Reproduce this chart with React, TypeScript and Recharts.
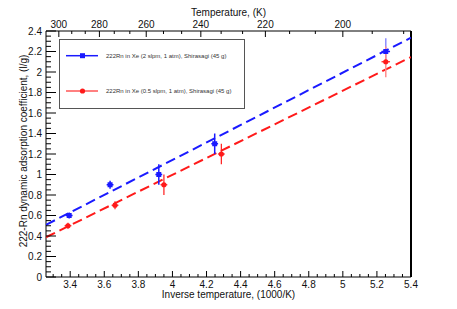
import { ComposedChart, XAxis, YAxis, Scatter, Line, ErrorBar, Legend, ReferenceArea, ReferenceLine, Label } from "recharts";

// measured points (x = 1000/T, y = adsorption coefficient l/g)
const blueX = [3.394, 3.634, 3.92, 4.248, 5.252];
const blueY = [0.6, 0.9, 1.0, 1.3, 2.2];
const blueErrX = [0.02, 0.02, 0.02, 0.02, 0.025];
const blueErrY = [0.03, 0.04, 0.1, 0.1, 0.13];

const redX = [3.387, 3.663, 3.95, 4.287, 5.252];
const redY = [0.5, 0.7, 0.9, 1.2, 2.1];
const redErrX = [0.02, 0.02, 0.02, 0.02, 0.025];
const redErrY = [0.03, 0.04, 0.1, 0.1, 0.15];

// linear fits, read at the frame edges
const fitX = [3.258, 5.4];
const blueFitY = [0.509, 2.335];
const redFitY = [0.388, 2.146];

const xMajor = [3.4, 3.6, 3.8, 4, 4.2, 4.4, 4.6, 4.8, 5, 5.2, 5.4];
const yMajor = [0, 0.2, 0.4, 0.6, 0.8, 1, 1.2, 1.4, 1.6, 1.8, 2, 2.2, 2.4];
const tempMajor = [300, 280, 260, 240, 220, 200];
const tempMinor = [293.33, 286.67, 273.33, 266.67, 253.33, 246.67, 233.33, 226.67, 213.33, 206.67, 193.33, 186.67];

const blueLabel = "222Rn in Xe (2 slpm, 1 atm), Shirasagi (45 g)";
const redLabel = "222Rn in Xe (0.5 slpm, 1 atm), Shirasagi (45 g)";

const X_MIN = 3.258;
const X_MAX = 5.4;
const FONT = "'Liberation Sans', Arial, Helvetica, sans-serif";
const BLUE = "#1a1aff";
const RED = "#ff1a1a";

const toRows = (xs: number[], ys: number[], ex: number[], ey: number[]) =>
  xs.map((x, i) => ({ x, y: ys[i], ex: ex[i], ey: ey[i] }));

const blueRows = toRows(blueX, blueY, blueErrX, blueErrY);
const redRows = toRows(redX, redY, redErrX, redErrY);
const blueFit = fitX.map((x, i) => ({ x, y: blueFitY[i] }));
const redFit = fitX.map((x, i) => ({ x, y: redFitY[i] }));

const xTicks: number[] = [];
for (let v = 3.3; v <= 5.401; v += 0.05) xTicks.push(Number(v.toFixed(2)));
const yTicks: number[] = [];
for (let v = 0; v <= 2.401; v += 0.05) yTicks.push(Number(v.toFixed(2)));
const topTicks = [...tempMajor, ...tempMinor].map((t) => 1000 / t);

const isIn = (list: number[], v: number) => list.some((m) => Math.abs(m - v) < 1e-6);
const fmt = (v: number) => String(Number(v.toFixed(2)));

const BottomTick = (p: any) => {
  const major = isIn(xMajor, p.payload.value);
  return (
    <g>
      <line x1={p.x} x2={p.x} y1={p.y} y2={p.y - (major ? 6 : 3)} stroke="#000" />
      {major && (
        <text x={p.x} y={p.y + 10.5} textAnchor="middle" fontSize={10} fontFamily={FONT} fill="#111">
          {fmt(p.payload.value)}
        </text>
      )}
    </g>
  );
};

const LeftTick = (p: any) => {
  const major = isIn(yMajor, p.payload.value);
  return (
    <g>
      <line x1={p.x} x2={p.x + (major ? 10 : 5)} y1={p.y} y2={p.y} stroke="#000" />
      {major && (
        <text x={p.x - 4} y={p.y + 3.6} textAnchor="end" fontSize={10} fontFamily={FONT} fill="#111">
          {fmt(p.payload.value)}
        </text>
      )}
    </g>
  );
};

const TopTick = (p: any) => {
  const t = Math.round(1000 / p.payload.value);
  const major = isIn(tempMajor, t);
  return (
    <g>
      <line x1={p.x} x2={p.x} y1={p.y} y2={p.y + (major ? 6 : 3)} stroke="#000" />
      {major && (
        <text x={p.x} y={p.y - 2.7} textAnchor="middle" fontSize={10} fontFamily={FONT} fill="#111">
          {t}
        </text>
      )}
    </g>
  );
};

const Square = (p: any) => <rect x={p.cx - 2.5} y={p.cy - 2.5} width={5} height={5} fill={BLUE} />;
const Dot = (p: any) => <circle cx={p.cx} cy={p.cy} r={2.6} fill={RED} />;

const LegendBox = () => (
  <div style={{ width: 186, height: 70, border: "1px solid #555", boxSizing: "border-box", background: "#fff" }}>
    <svg width={184} height={68} style={{ display: "block" }}>
      <line x1={6} x2={38} y1={15.7} y2={15.7} stroke={BLUE} strokeWidth={1.5} />
      <rect x={20} y={13.2} width={5} height={5} fill={BLUE} />
      <text x={46} y={17.8} fontSize={6} fontFamily={FONT} fill="#333">{blueLabel}</text>
      <line x1={6} x2={38} y1={51} y2={51} stroke="#ff8080" strokeWidth={2} />
      <circle cx={22.5} cy={51} r={2.6} fill={RED} />
      <text x={46} y={53.1} fontSize={6} fontFamily={FONT} fill="#333">{redLabel}</text>
    </svg>
  </div>
);

export default function App() {
  return (
    <div style={{ position: "absolute", left: 0, top: 0 }}>
      <ComposedChart width={457} height={309} margin={{ top: 0, right: 46, bottom: 0, left: 0 }}>
        <XAxis
          type="number"
          dataKey="x"
          domain={[X_MIN, X_MAX]}
          allowDataOverflow
          ticks={xTicks}
          interval={0}
          tick={BottomTick}
          tickSize={0}
          tickMargin={0}
          tickLine={false}
          axisLine={false}
          height={32}
        >
          <Label
            content={() => (
              <text x={228.5} y={297.5} textAnchor="middle" fontSize={10} fontFamily={FONT} fill="#111">
                Inverse temperature, (1000/K)
              </text>
            )}
          />
        </XAxis>
        <XAxis
          xAxisId="top"
          orientation="top"
          type="number"
          dataKey="x"
          domain={[X_MIN, X_MAX]}
          allowDataOverflow
          ticks={topTicks}
          interval={0}
          tick={TopTick}
          tickSize={0}
          tickMargin={0}
          tickLine={false}
          axisLine={false}
          height={31}
        >
          <Label
            content={() => (
              <text x={228.5} y={16} textAnchor="middle" fontSize={10} fontFamily={FONT} fill="#111">
                Temperature, (K)
              </text>
            )}
          />
        </XAxis>
        <YAxis
          type="number"
          dataKey="y"
          domain={[0, 2.4]}
          allowDataOverflow
          ticks={yTicks}
          interval={0}
          tick={LeftTick}
          tickSize={0}
          tickMargin={0}
          tickLine={false}
          axisLine={false}
          width={46}
        >
          <Label
            content={() => (
              <text
                transform="translate(27,151) rotate(-90)"
                textAnchor="middle"
                fontSize={10}
                fontFamily={FONT}
                fill="#111"
              >
                222-Rn dynamic adsorption coefficient, (l/g)
              </text>
            )}
          />
        </YAxis>
        <ReferenceArea x1={X_MIN} x2={X_MAX} y1={0} y2={2.4} fill="none" stroke="#000" strokeWidth={1} ifOverflow="visible" />
        <ReferenceLine x={X_MAX} stroke="#000" strokeWidth={2} ifOverflow="visible" />
        <Line data={redFit} dataKey="y" type="linear" stroke={RED} strokeWidth={2} strokeDasharray="10 5" dot={false} isAnimationActive={false} legendType="none" />
        <Line data={blueFit} dataKey="y" type="linear" stroke={BLUE} strokeWidth={2} strokeDasharray="10 5" dot={false} isAnimationActive={false} legendType="none" />
        <Scatter data={blueRows.slice(0, 4)} dataKey="y" shape={Square} isAnimationActive={false}>
          <ErrorBar dataKey="ey" direction="y" width={0} stroke={BLUE} strokeWidth={1.5} />
          <ErrorBar dataKey="ex" direction="x" width={0} stroke={BLUE} strokeWidth={1.5} />
        </Scatter>
        <Scatter data={blueRows.slice(4)} dataKey="y" shape={Square} isAnimationActive={false}>
          <ErrorBar dataKey="ey" direction="y" width={0} stroke="#8c8cff" strokeWidth={1.5} />
          <ErrorBar dataKey="ex" direction="x" width={0} stroke={BLUE} strokeWidth={1.5} />
        </Scatter>
        <Scatter data={redRows.slice(0, 4)} dataKey="y" shape={Dot} isAnimationActive={false}>
          <ErrorBar dataKey="ey" direction="y" width={0} stroke={RED} strokeWidth={1.2} />
          <ErrorBar dataKey="ex" direction="x" width={0} stroke={RED} strokeWidth={1.2} />
        </Scatter>
        <Scatter data={redRows.slice(4)} dataKey="y" shape={Dot} isAnimationActive={false}>
          <ErrorBar dataKey="ey" direction="y" width={0} stroke="#ff8c8c" strokeWidth={1.5} />
          <ErrorBar dataKey="ex" direction="x" width={0} stroke={RED} strokeWidth={1.2} />
        </Scatter>
        <Legend
          verticalAlign="middle"
          layout="horizontal"
          content={() => <LegendBox />}
          wrapperStyle={{ position: "absolute", left: 58.5, top: 39, width: 186, height: 70 }}
        />
      </ComposedChart>
    </div>
  );
}
